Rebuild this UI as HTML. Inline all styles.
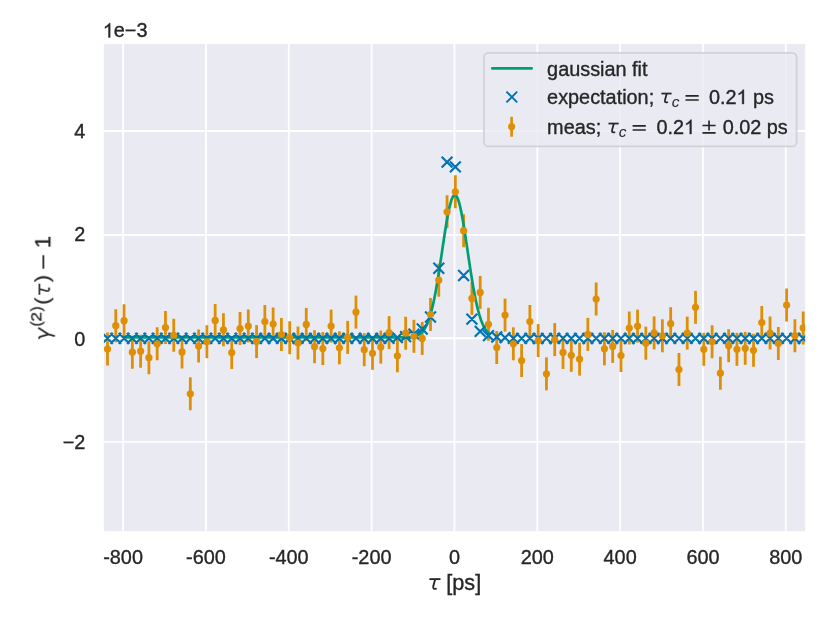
<!DOCTYPE html>
<html><head><meta charset="utf-8"><title>chart</title>
<style>html,body{margin:0;padding:0;background:#fff;}body{width:830px;height:623px;position:relative;overflow:hidden;font-family:"Liberation Sans",sans-serif;}</style>
</head><body>
<svg width="830" height="623" viewBox="0 0 830 623" style="position:absolute;left:0;top:0">
<defs><clipPath id="ax"><rect x="103.9" y="44.05" width="701.3" height="487.1"/></clipPath></defs>
<rect x="0" y="0" width="830" height="623" fill="#fff"/>
<rect x="103.9" y="44.05" width="701.3" height="487.1" fill="#EAEAF2"/>
<g stroke="#fff" stroke-width="1.8" clip-path="url(#ax)">
<line x1="123.09" y1="44.05" x2="123.09" y2="531.15"/>
<line x1="205.93" y1="44.05" x2="205.93" y2="531.15"/>
<line x1="288.77" y1="44.05" x2="288.77" y2="531.15"/>
<line x1="371.61" y1="44.05" x2="371.61" y2="531.15"/>
<line x1="454.45" y1="44.05" x2="454.45" y2="531.15"/>
<line x1="537.29" y1="44.05" x2="537.29" y2="531.15"/>
<line x1="620.13" y1="44.05" x2="620.13" y2="531.15"/>
<line x1="702.97" y1="44.05" x2="702.97" y2="531.15"/>
<line x1="785.81" y1="44.05" x2="785.81" y2="531.15"/>
<line x1="103.9" y1="131.00" x2="805.2" y2="131.00"/>
<line x1="103.9" y1="235.00" x2="805.2" y2="235.00"/>
<line x1="103.9" y1="338.25" x2="805.2" y2="338.25"/>
<line x1="103.9" y1="441.90" x2="805.2" y2="441.90"/>
</g>
<g clip-path="url(#ax)">
<g stroke="#DE8F05" stroke-width="2.8">
<line x1="107.50" y1="332.50" x2="107.50" y2="365.50"/>
<line x1="115.78" y1="309.20" x2="115.78" y2="342.20"/>
<line x1="124.06" y1="304.15" x2="124.06" y2="337.15"/>
<line x1="132.35" y1="335.70" x2="132.35" y2="368.70"/>
<line x1="140.63" y1="334.65" x2="140.63" y2="367.65"/>
<line x1="148.91" y1="341.20" x2="148.91" y2="374.20"/>
<line x1="157.19" y1="327.30" x2="157.19" y2="360.30"/>
<line x1="165.47" y1="311.10" x2="165.47" y2="344.10"/>
<line x1="173.76" y1="318.75" x2="173.76" y2="351.75"/>
<line x1="182.04" y1="335.40" x2="182.04" y2="368.40"/>
<line x1="190.32" y1="377.30" x2="190.32" y2="410.30"/>
<line x1="198.60" y1="329.60" x2="198.60" y2="362.60"/>
<line x1="206.88" y1="325.25" x2="206.88" y2="358.25"/>
<line x1="215.17" y1="303.90" x2="215.17" y2="336.90"/>
<line x1="223.45" y1="313.26" x2="223.45" y2="346.26"/>
<line x1="231.73" y1="336.10" x2="231.73" y2="369.10"/>
<line x1="240.01" y1="312.10" x2="240.01" y2="345.10"/>
<line x1="248.29" y1="309.60" x2="248.29" y2="342.60"/>
<line x1="256.58" y1="325.10" x2="256.58" y2="358.10"/>
<line x1="264.86" y1="305.00" x2="264.86" y2="338.00"/>
<line x1="273.14" y1="307.50" x2="273.14" y2="340.50"/>
<line x1="281.42" y1="318.00" x2="281.42" y2="351.00"/>
<line x1="289.70" y1="321.20" x2="289.70" y2="354.20"/>
<line x1="297.99" y1="326.56" x2="297.99" y2="359.56"/>
<line x1="306.27" y1="307.90" x2="306.27" y2="340.90"/>
<line x1="314.55" y1="330.20" x2="314.55" y2="363.20"/>
<line x1="322.83" y1="332.05" x2="322.83" y2="365.05"/>
<line x1="331.11" y1="309.60" x2="331.11" y2="342.60"/>
<line x1="339.40" y1="331.30" x2="339.40" y2="364.30"/>
<line x1="347.68" y1="320.90" x2="347.68" y2="353.90"/>
<line x1="355.96" y1="295.60" x2="355.96" y2="328.60"/>
<line x1="364.24" y1="333.20" x2="364.24" y2="366.20"/>
<line x1="372.52" y1="336.80" x2="372.52" y2="369.80"/>
<line x1="380.81" y1="330.60" x2="380.81" y2="363.60"/>
<line x1="389.09" y1="316.15" x2="389.09" y2="349.15"/>
<line x1="397.37" y1="339.30" x2="397.37" y2="372.30"/>
<line x1="405.65" y1="316.70" x2="405.65" y2="349.70"/>
<line x1="413.93" y1="319.80" x2="413.93" y2="352.80"/>
<line x1="422.22" y1="321.90" x2="422.22" y2="354.90"/>
<line x1="430.50" y1="298.00" x2="430.50" y2="331.00"/>
<line x1="438.78" y1="263.70" x2="438.78" y2="296.70"/>
<line x1="447.06" y1="195.30" x2="447.06" y2="228.30"/>
<line x1="455.34" y1="175.30" x2="455.34" y2="208.30"/>
<line x1="463.63" y1="214.20" x2="463.63" y2="247.20"/>
<line x1="471.91" y1="281.90" x2="471.91" y2="314.90"/>
<line x1="480.19" y1="275.90" x2="480.19" y2="308.90"/>
<line x1="488.47" y1="307.80" x2="488.47" y2="340.80"/>
<line x1="496.75" y1="331.00" x2="496.75" y2="364.00"/>
<line x1="505.04" y1="298.60" x2="505.04" y2="331.60"/>
<line x1="513.32" y1="327.30" x2="513.32" y2="360.30"/>
<line x1="521.60" y1="344.05" x2="521.60" y2="377.05"/>
<line x1="529.88" y1="305.00" x2="529.88" y2="338.00"/>
<line x1="538.16" y1="324.10" x2="538.16" y2="357.10"/>
<line x1="546.45" y1="357.35" x2="546.45" y2="390.35"/>
<line x1="554.73" y1="323.10" x2="554.73" y2="356.10"/>
<line x1="563.01" y1="335.95" x2="563.01" y2="368.95"/>
<line x1="571.29" y1="338.80" x2="571.29" y2="371.80"/>
<line x1="579.57" y1="342.60" x2="579.57" y2="375.60"/>
<line x1="587.86" y1="317.90" x2="587.86" y2="350.90"/>
<line x1="596.14" y1="282.50" x2="596.14" y2="315.50"/>
<line x1="604.42" y1="332.30" x2="604.42" y2="365.30"/>
<line x1="612.70" y1="329.90" x2="612.70" y2="362.90"/>
<line x1="620.98" y1="339.00" x2="620.98" y2="372.00"/>
<line x1="629.27" y1="311.50" x2="629.27" y2="344.50"/>
<line x1="637.55" y1="309.60" x2="637.55" y2="342.60"/>
<line x1="645.83" y1="326.70" x2="645.83" y2="359.70"/>
<line x1="654.11" y1="316.40" x2="654.11" y2="349.40"/>
<line x1="662.39" y1="319.30" x2="662.39" y2="352.30"/>
<line x1="670.68" y1="307.20" x2="670.68" y2="340.20"/>
<line x1="678.96" y1="353.00" x2="678.96" y2="386.00"/>
<line x1="687.24" y1="316.60" x2="687.24" y2="349.60"/>
<line x1="695.52" y1="290.85" x2="695.52" y2="323.85"/>
<line x1="703.80" y1="332.80" x2="703.80" y2="365.80"/>
<line x1="712.09" y1="325.25" x2="712.09" y2="358.25"/>
<line x1="720.37" y1="356.70" x2="720.37" y2="389.70"/>
<line x1="728.65" y1="329.20" x2="728.65" y2="362.20"/>
<line x1="736.93" y1="332.80" x2="736.93" y2="365.80"/>
<line x1="745.21" y1="331.80" x2="745.21" y2="364.80"/>
<line x1="753.50" y1="333.80" x2="753.50" y2="366.80"/>
<line x1="761.78" y1="306.00" x2="761.78" y2="339.00"/>
<line x1="770.06" y1="316.60" x2="770.06" y2="349.60"/>
<line x1="778.34" y1="327.00" x2="778.34" y2="360.00"/>
<line x1="786.62" y1="288.50" x2="786.62" y2="321.50"/>
<line x1="794.91" y1="319.20" x2="794.91" y2="352.20"/>
<line x1="803.19" y1="311.40" x2="803.19" y2="344.40"/>
</g>
<polyline fill="none" stroke="#029E73" stroke-width="2.7" stroke-linejoin="round" stroke-linecap="round" points="124.06,337.37 132.35,337.37 140.63,337.37 148.92,337.37 157.20,337.37 165.48,337.37 173.77,337.37 182.05,337.37 190.34,337.37 198.62,337.37 206.90,337.37 215.19,337.37 223.47,337.37 231.76,337.37 240.04,337.37 248.32,337.37 256.61,337.37 264.89,337.37 273.18,337.37 281.46,337.37 289.74,337.37 298.03,337.37 306.31,337.37 314.60,337.37 322.88,337.37 331.16,337.37 339.45,337.37 347.73,337.37 356.02,337.37 364.30,337.37 372.58,337.37 373.41,337.37 374.24,337.37 375.07,337.37 375.90,337.37 376.73,337.37 377.55,337.37 378.38,337.37 379.21,337.37 380.04,337.37 380.87,337.37 381.70,337.37 382.52,337.37 383.35,337.37 384.18,337.37 385.01,337.37 385.84,337.37 386.67,337.37 387.50,337.37 388.32,337.37 389.15,337.37 389.98,337.37 390.81,337.37 391.64,337.37 392.47,337.37 393.29,337.37 394.12,337.37 394.95,337.37 395.78,337.37 396.61,337.37 397.44,337.36 398.26,337.36 399.09,337.36 399.92,337.36 400.75,337.35 401.58,337.35 402.41,337.34 403.23,337.33 404.06,337.32 404.89,337.30 405.72,337.29 406.55,337.26 407.38,337.23 408.21,337.19 409.03,337.15 409.86,337.09 410.69,337.02 411.52,336.93 412.35,336.82 413.18,336.69 414.00,336.53 414.83,336.33 415.66,336.10 416.49,335.83 417.32,335.50 418.15,335.11 418.97,334.65 419.80,334.11 420.63,333.48 421.46,332.75 422.29,331.91 423.12,330.94 423.94,329.82 424.77,328.56 425.60,327.12 426.43,325.50 427.26,323.68 428.09,321.64 428.92,319.39 429.74,316.89 430.57,314.15 431.40,311.14 432.23,307.88 433.06,304.35 433.89,300.55 434.71,296.49 435.54,292.17 436.37,287.60 437.20,282.80 438.03,277.79 438.86,272.60 439.68,267.25 440.51,261.78 441.34,256.22 442.17,250.62 443.00,245.02 443.83,239.48 444.65,234.04 445.48,228.76 446.31,223.69 447.14,218.88 447.97,214.39 448.80,210.26 449.63,206.55 450.45,203.30 451.28,200.54 452.11,198.32 452.94,196.65 453.77,195.57 454.60,195.07 455.42,195.18 456.25,195.88 457.08,197.17 457.91,199.04 458.74,201.45 459.57,204.39 460.39,207.81 461.22,211.67 462.05,215.93 462.88,220.54 463.71,225.44 464.54,230.59 465.36,235.94 466.19,241.42 467.02,246.99 467.85,252.59 468.68,258.18 469.51,263.71 470.34,269.15 471.16,274.45 471.99,279.58 472.82,284.51 473.65,289.23 474.48,293.71 475.31,297.94 476.13,301.92 476.96,305.62 477.79,309.06 478.62,312.23 479.45,315.14 480.28,317.80 481.10,320.21 481.93,322.38 482.76,324.34 483.59,326.09 484.42,327.64 485.25,329.02 486.07,330.23 486.90,331.29 487.73,332.22 488.47,332.94"/>
<path d="M102.10 332.95L112.90 343.75M102.10 343.75L112.90 332.95M110.38 332.95L121.18 343.75M110.38 343.75L121.18 332.95M118.66 332.95L129.46 343.75M118.66 343.75L129.46 332.95M126.95 332.95L137.75 343.75M126.95 343.75L137.75 332.95M135.23 332.95L146.03 343.75M135.23 343.75L146.03 332.95M143.51 332.95L154.31 343.75M143.51 343.75L154.31 332.95M151.79 332.95L162.59 343.75M151.79 343.75L162.59 332.95M160.07 332.95L170.87 343.75M160.07 343.75L170.87 332.95M168.36 332.95L179.16 343.75M168.36 343.75L179.16 332.95M176.64 332.95L187.44 343.75M176.64 343.75L187.44 332.95M184.92 332.95L195.72 343.75M184.92 343.75L195.72 332.95M193.20 332.95L204.00 343.75M193.20 343.75L204.00 332.95M201.48 332.95L212.28 343.75M201.48 343.75L212.28 332.95M209.77 332.95L220.57 343.75M209.77 343.75L220.57 332.95M218.05 332.95L228.85 343.75M218.05 343.75L228.85 332.95M226.33 332.95L237.13 343.75M226.33 343.75L237.13 332.95M234.61 332.95L245.41 343.75M234.61 343.75L245.41 332.95M242.89 332.95L253.69 343.75M242.89 343.75L253.69 332.95M251.18 332.95L261.98 343.75M251.18 343.75L261.98 332.95M259.46 332.95L270.26 343.75M259.46 343.75L270.26 332.95M267.74 332.95L278.54 343.75M267.74 343.75L278.54 332.95M276.02 332.95L286.82 343.75M276.02 343.75L286.82 332.95M284.30 332.95L295.10 343.75M284.30 343.75L295.10 332.95M292.59 332.95L303.39 343.75M292.59 343.75L303.39 332.95M300.87 332.95L311.67 343.75M300.87 343.75L311.67 332.95M309.15 332.95L319.95 343.75M309.15 343.75L319.95 332.95M317.43 332.95L328.23 343.75M317.43 343.75L328.23 332.95M325.71 332.95L336.51 343.75M325.71 343.75L336.51 332.95M334.00 332.95L344.80 343.75M334.00 343.75L344.80 332.95M342.28 332.95L353.08 343.75M342.28 343.75L353.08 332.95M350.56 332.95L361.36 343.75M350.56 343.75L361.36 332.95M358.84 332.95L369.64 343.75M358.84 343.75L369.64 332.95M367.12 332.95L377.92 343.75M367.12 343.75L377.92 332.95M375.41 332.95L386.21 343.75M375.41 343.75L386.21 332.95M383.69 332.95L394.49 343.75M383.69 343.75L394.49 332.95M391.97 332.30L402.77 343.10M391.97 343.10L402.77 332.30M400.25 331.20L411.05 342.00M400.25 342.00L411.05 331.20M408.53 328.70L419.33 339.50M408.53 339.50L419.33 328.70M416.82 323.60L427.62 334.40M416.82 334.40L427.62 323.60M425.10 311.60L435.90 322.40M425.10 322.40L435.90 311.60M433.38 262.85L444.18 273.65M433.38 273.65L444.18 262.85M441.66 156.65L452.46 167.45M441.66 167.45L452.46 156.65M449.94 161.50L460.74 172.30M449.94 172.30L460.74 161.50M458.23 270.10L469.03 280.90M458.23 280.90L469.03 270.10M466.51 313.80L477.31 324.60M466.51 324.60L477.31 313.80M474.79 325.90L485.59 336.70M474.79 336.70L485.59 325.90M483.07 330.20L493.87 341.00M483.07 341.00L493.87 330.20M491.35 331.60L502.15 342.40M491.35 342.40L502.15 331.60M499.64 332.30L510.44 343.10M499.64 343.10L510.44 332.30M507.92 332.95L518.72 343.75M507.92 343.75L518.72 332.95M516.20 332.95L527.00 343.75M516.20 343.75L527.00 332.95M524.48 332.95L535.28 343.75M524.48 343.75L535.28 332.95M532.76 332.95L543.56 343.75M532.76 343.75L543.56 332.95M541.05 332.95L551.85 343.75M541.05 343.75L551.85 332.95M549.33 332.95L560.13 343.75M549.33 343.75L560.13 332.95M557.61 332.95L568.41 343.75M557.61 343.75L568.41 332.95M565.89 332.95L576.69 343.75M565.89 343.75L576.69 332.95M574.17 332.95L584.97 343.75M574.17 343.75L584.97 332.95M582.46 332.95L593.26 343.75M582.46 343.75L593.26 332.95M590.74 332.95L601.54 343.75M590.74 343.75L601.54 332.95M599.02 332.95L609.82 343.75M599.02 343.75L609.82 332.95M607.30 332.95L618.10 343.75M607.30 343.75L618.10 332.95M615.58 332.95L626.38 343.75M615.58 343.75L626.38 332.95M623.87 332.95L634.67 343.75M623.87 343.75L634.67 332.95M632.15 332.95L642.95 343.75M632.15 343.75L642.95 332.95M640.43 332.95L651.23 343.75M640.43 343.75L651.23 332.95M648.71 332.95L659.51 343.75M648.71 343.75L659.51 332.95M656.99 332.95L667.79 343.75M656.99 343.75L667.79 332.95M665.28 332.95L676.08 343.75M665.28 343.75L676.08 332.95M673.56 332.95L684.36 343.75M673.56 343.75L684.36 332.95M681.84 332.95L692.64 343.75M681.84 343.75L692.64 332.95M690.12 332.95L700.92 343.75M690.12 343.75L700.92 332.95M698.40 332.95L709.20 343.75M698.40 343.75L709.20 332.95M706.69 332.95L717.49 343.75M706.69 343.75L717.49 332.95M714.97 332.95L725.77 343.75M714.97 343.75L725.77 332.95M723.25 332.95L734.05 343.75M723.25 343.75L734.05 332.95M731.53 332.95L742.33 343.75M731.53 343.75L742.33 332.95M739.81 332.95L750.61 343.75M739.81 343.75L750.61 332.95M748.10 332.95L758.90 343.75M748.10 343.75L758.90 332.95M756.38 332.95L767.18 343.75M756.38 343.75L767.18 332.95M764.66 332.95L775.46 343.75M764.66 343.75L775.46 332.95M772.94 332.95L783.74 343.75M772.94 343.75L783.74 332.95M781.22 332.95L792.02 343.75M781.22 343.75L792.02 332.95M789.51 332.95L800.31 343.75M789.51 343.75L800.31 332.95M797.79 332.95L808.59 343.75M797.79 343.75L808.59 332.95" stroke="#0173B2" stroke-width="2.15" fill="none"/>
<g fill="#DE8F05">
<circle cx="107.50" cy="349.00" r="3.6"/>
<circle cx="115.78" cy="325.70" r="3.6"/>
<circle cx="124.06" cy="320.65" r="3.6"/>
<circle cx="132.35" cy="352.20" r="3.6"/>
<circle cx="140.63" cy="351.15" r="3.6"/>
<circle cx="148.91" cy="357.70" r="3.6"/>
<circle cx="157.19" cy="343.80" r="3.6"/>
<circle cx="165.47" cy="327.60" r="3.6"/>
<circle cx="173.76" cy="335.25" r="3.6"/>
<circle cx="182.04" cy="351.90" r="3.6"/>
<circle cx="190.32" cy="393.80" r="3.6"/>
<circle cx="198.60" cy="346.10" r="3.6"/>
<circle cx="206.88" cy="341.75" r="3.6"/>
<circle cx="215.17" cy="320.40" r="3.6"/>
<circle cx="223.45" cy="329.76" r="3.6"/>
<circle cx="231.73" cy="352.60" r="3.6"/>
<circle cx="240.01" cy="328.60" r="3.6"/>
<circle cx="248.29" cy="326.10" r="3.6"/>
<circle cx="256.58" cy="341.60" r="3.6"/>
<circle cx="264.86" cy="321.50" r="3.6"/>
<circle cx="273.14" cy="324.00" r="3.6"/>
<circle cx="281.42" cy="334.50" r="3.6"/>
<circle cx="289.70" cy="337.70" r="3.6"/>
<circle cx="297.99" cy="343.06" r="3.6"/>
<circle cx="306.27" cy="324.40" r="3.6"/>
<circle cx="314.55" cy="346.70" r="3.6"/>
<circle cx="322.83" cy="348.55" r="3.6"/>
<circle cx="331.11" cy="326.10" r="3.6"/>
<circle cx="339.40" cy="347.80" r="3.6"/>
<circle cx="347.68" cy="337.40" r="3.6"/>
<circle cx="355.96" cy="312.10" r="3.6"/>
<circle cx="364.24" cy="349.70" r="3.6"/>
<circle cx="372.52" cy="353.30" r="3.6"/>
<circle cx="380.81" cy="347.10" r="3.6"/>
<circle cx="389.09" cy="332.65" r="3.6"/>
<circle cx="397.37" cy="355.80" r="3.6"/>
<circle cx="405.65" cy="333.20" r="3.6"/>
<circle cx="413.93" cy="336.30" r="3.6"/>
<circle cx="422.22" cy="338.40" r="3.6"/>
<circle cx="430.50" cy="314.50" r="3.6"/>
<circle cx="438.78" cy="280.20" r="3.6"/>
<circle cx="447.06" cy="211.80" r="3.6"/>
<circle cx="455.34" cy="191.80" r="3.6"/>
<circle cx="463.63" cy="230.70" r="3.6"/>
<circle cx="471.91" cy="298.40" r="3.6"/>
<circle cx="480.19" cy="292.40" r="3.6"/>
<circle cx="488.47" cy="324.30" r="3.6"/>
<circle cx="496.75" cy="347.50" r="3.6"/>
<circle cx="505.04" cy="315.10" r="3.6"/>
<circle cx="513.32" cy="343.80" r="3.6"/>
<circle cx="521.60" cy="360.55" r="3.6"/>
<circle cx="529.88" cy="321.50" r="3.6"/>
<circle cx="538.16" cy="340.60" r="3.6"/>
<circle cx="546.45" cy="373.85" r="3.6"/>
<circle cx="554.73" cy="339.60" r="3.6"/>
<circle cx="563.01" cy="352.45" r="3.6"/>
<circle cx="571.29" cy="355.30" r="3.6"/>
<circle cx="579.57" cy="359.10" r="3.6"/>
<circle cx="587.86" cy="334.40" r="3.6"/>
<circle cx="596.14" cy="299.00" r="3.6"/>
<circle cx="604.42" cy="348.80" r="3.6"/>
<circle cx="612.70" cy="346.40" r="3.6"/>
<circle cx="620.98" cy="355.50" r="3.6"/>
<circle cx="629.27" cy="328.00" r="3.6"/>
<circle cx="637.55" cy="326.10" r="3.6"/>
<circle cx="645.83" cy="343.20" r="3.6"/>
<circle cx="654.11" cy="332.90" r="3.6"/>
<circle cx="662.39" cy="335.80" r="3.6"/>
<circle cx="670.68" cy="323.70" r="3.6"/>
<circle cx="678.96" cy="369.50" r="3.6"/>
<circle cx="687.24" cy="333.10" r="3.6"/>
<circle cx="695.52" cy="307.35" r="3.6"/>
<circle cx="703.80" cy="349.30" r="3.6"/>
<circle cx="712.09" cy="341.75" r="3.6"/>
<circle cx="720.37" cy="373.20" r="3.6"/>
<circle cx="728.65" cy="345.70" r="3.6"/>
<circle cx="736.93" cy="349.30" r="3.6"/>
<circle cx="745.21" cy="348.30" r="3.6"/>
<circle cx="753.50" cy="350.30" r="3.6"/>
<circle cx="761.78" cy="322.50" r="3.6"/>
<circle cx="770.06" cy="333.10" r="3.6"/>
<circle cx="778.34" cy="343.50" r="3.6"/>
<circle cx="786.62" cy="305.00" r="3.6"/>
<circle cx="794.91" cy="335.70" r="3.6"/>
<circle cx="803.19" cy="327.90" r="3.6"/>
</g>
</g>
<rect x="484" y="52.8" width="312.6" height="93.6" rx="4.5" ry="4.5" fill="#EAEAF2" fill-opacity="0.8" stroke="#cccccc" stroke-opacity="0.8" stroke-width="1.8"/>
<line x1="492.3" y1="68.4" x2="531.6" y2="68.4" stroke="#029E73" stroke-width="2.7" stroke-linecap="round"/>
<path d="M506.40 91.60L517.20 102.40M506.40 102.40L517.20 91.60" stroke="#0173B2" stroke-width="1.9" fill="none"/>
<line x1="511.6" y1="116.8" x2="511.6" y2="136.7" stroke="#DE8F05" stroke-width="2.7"/>
<circle cx="511.6" cy="126.6" r="3.6" fill="#DE8F05"/>
<g font-family="Liberation Sans, sans-serif" fill="#262626" stroke="#262626" stroke-width="0.35" style="opacity:0.999">
<text x="547.1" y="76" font-size="19.86">gaussian fit</text>
<text x="547.1" y="104" font-size="19.86">expectation;</text>
<g transform="translate(661.40,103.30) scale(1)" stroke="#262626" stroke-width="1.75" fill="none" stroke-linecap="butt" stroke-linejoin="round"><path d="M0,-9.75H10.2"/><path d="M5.3,-9.6L3.65,-3.6Q3.0,-0.75 5.0,-0.85L6.7,-1.05"/></g><text x="671.70" y="107.20" font-size="15.5" font-style="italic" stroke="none">c</text><path d="M685.50,95.85h13.2 M685.50,100.00h13.2" stroke="#262626" stroke-width="1.65" fill="none"/>
<text x="708.9" y="104" font-size="19.86">0.2</text>
<path transform="translate(736.51,104.00) scale(0.009697,-0.009697)" stroke-width="36.1" d="M763 0H583V1147Q518 1085 412.5 1023T223 930V1104Q374 1175 487 1276T647 1472H763Z"/>
<text x="747.548" y="104" font-size="19.86" xml:space="preserve"> ps</text>
<text x="547.1" y="134" font-size="19.86">meas;</text>
<g transform="translate(608.50,133.30) scale(1)" stroke="#262626" stroke-width="1.75" fill="none" stroke-linecap="butt" stroke-linejoin="round"><path d="M0,-9.75H10.2"/><path d="M5.3,-9.6L3.65,-3.6Q3.0,-0.75 5.0,-0.85L6.7,-1.05"/></g><text x="618.80" y="137.20" font-size="15.5" font-style="italic" stroke="none">c</text><path d="M632.60,125.85h13.2 M632.60,130.00h13.2" stroke="#262626" stroke-width="1.65" fill="none"/>
<text x="656.5" y="134" font-size="19.86">0.2</text>
<path transform="translate(684.11,134.00) scale(0.009697,-0.009697)" stroke-width="36.1" d="M763 0H583V1147Q518 1085 412.5 1023T223 930V1104Q374 1175 487 1276T647 1472H763Z"/>
<path d="M702.5,125.50h13.1 M709.05,120.60v9.8 M702.5,132.80h13.1" stroke="#262626" stroke-width="1.65" fill="none"/>
<text x="722.65" y="134" font-size="19.86">0.02 ps</text>
<path transform="translate(102.80,37.45) scale(0.009697,-0.009697)" stroke-width="36.1" d="M763 0H583V1147Q518 1085 412.5 1023T223 930V1104Q374 1175 487 1276T647 1472H763Z"/>
<text x="113.842" y="37.45" font-size="19.86">e−3</text>
<text x="123.09" y="564.2" font-size="19.86" text-anchor="middle">-800</text>
<text x="205.93" y="564.2" font-size="19.86" text-anchor="middle">-600</text>
<text x="288.77" y="564.2" font-size="19.86" text-anchor="middle">-400</text>
<text x="371.61" y="564.2" font-size="19.86" text-anchor="middle">-200</text>
<text x="454.45" y="564.2" font-size="19.86" text-anchor="middle">0</text>
<text x="537.29" y="564.2" font-size="19.86" text-anchor="middle">200</text>
<text x="620.13" y="564.2" font-size="19.86" text-anchor="middle">400</text>
<text x="702.97" y="564.2" font-size="19.86" text-anchor="middle">600</text>
<text x="785.81" y="564.2" font-size="19.86" text-anchor="middle">800</text>
<text x="85.4" y="137.95" font-size="19.86" text-anchor="end">4</text>
<text x="85.4" y="241.20" font-size="19.86" text-anchor="end">2</text>
<text x="85.4" y="345.80" font-size="19.86" text-anchor="end">0</text>
<text x="85.4" y="448.65" font-size="19.86" text-anchor="end">−2</text>
<g transform="translate(429.40,589.75) scale(1.091)" stroke="#262626" stroke-width="1.7" fill="none" stroke-linecap="butt" stroke-linejoin="round"><path d="M0,-9.75H10.2"/><path d="M5.3,-9.6L3.65,-3.6Q3.0,-0.75 5.0,-0.85L6.7,-1.05"/></g>
<text x="446.3" y="589.9" font-size="21.67">[ps]</text>
<g transform="translate(50.3,339.85) rotate(-90)">
<path d="M1.0,-10.6Q2.2,-11.7 3.1,-10.2L5.5,-1.7L3.8,4.4M12.1,-12.0L5.5,-1.7" stroke="#262626" stroke-width="1.8" fill="none" stroke-linejoin="round"/>
<text x="13.6" y="-9.1" font-size="14.8">(</text>
<text transform="translate(18.2,-8.9) scale(1.12,1)" font-size="15.45">2</text>
<text x="28.6" y="-9.1" font-size="14.8">)</text>
<text transform="translate(34.9,-1.4) scale(1.08,1)" font-size="21" stroke-width="0.15">(</text>
<g transform="translate(45.05,-0.20) scale(1.091)" stroke="#262626" stroke-width="1.5" fill="none" stroke-linecap="butt" stroke-linejoin="round"><path d="M0,-9.75H10.2"/><path d="M5.3,-9.6L3.65,-3.6Q3.0,-0.75 5.0,-0.85L6.7,-1.05"/></g>
<text transform="translate(57.5,-1.4) scale(1.08,1)" font-size="21" stroke-width="0.15">)</text>
<path d="M71.15,-6.9H84.65" stroke="#262626" stroke-width="1.75" fill="none"/>
<text x="91.7" y="0" font-size="22">1</text>
</g>
</g>
</svg>
</body></html>
